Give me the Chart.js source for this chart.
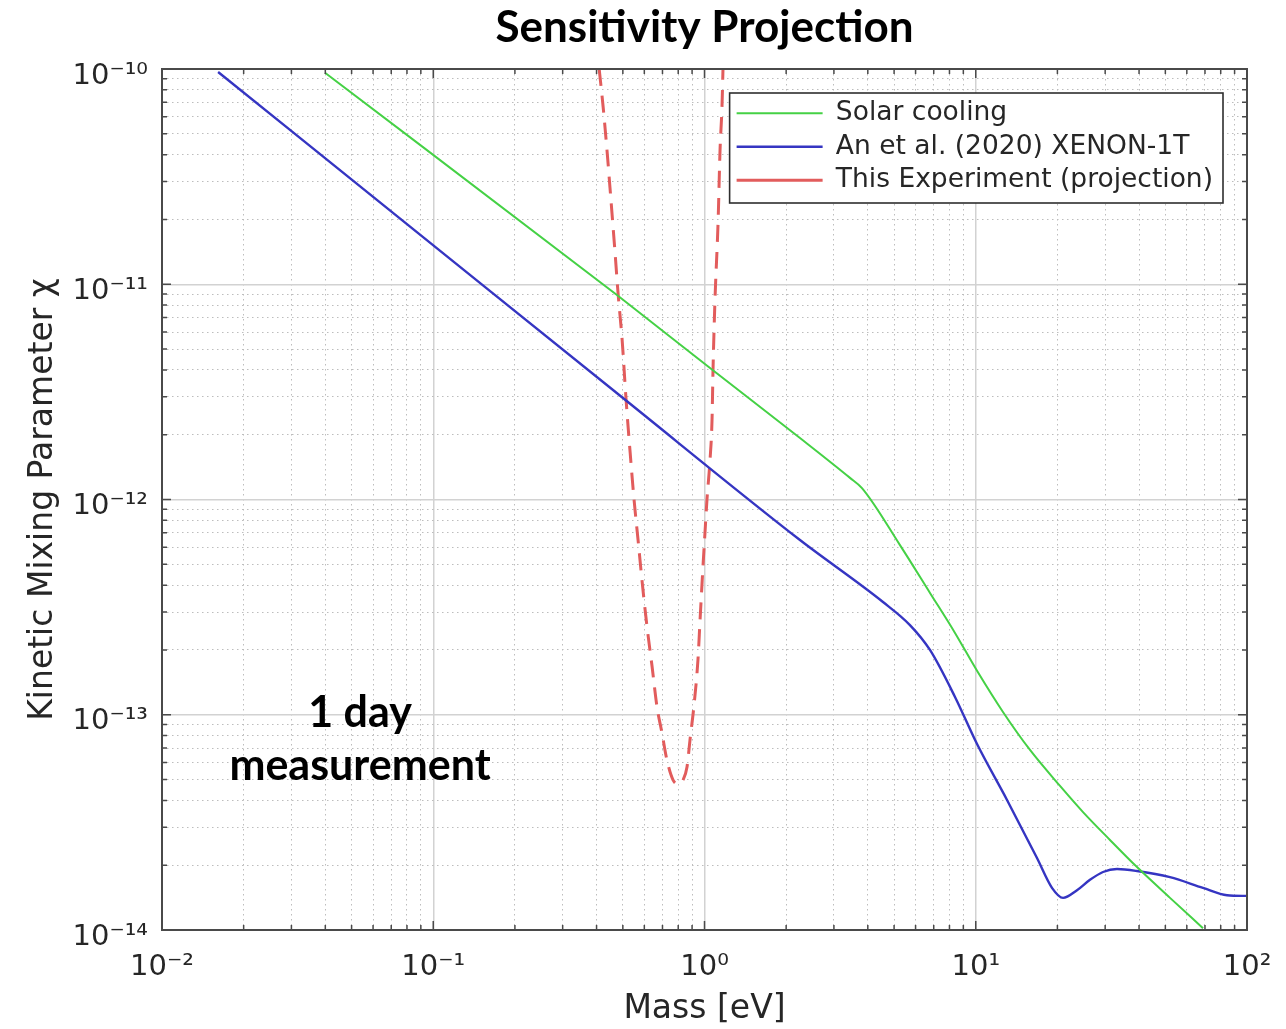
<!DOCTYPE html>
<html>
<head>
<meta charset="utf-8">
<script src="https://cdn.jsdelivr.net/npm/chart.js@4.4.1/dist/chart.umd.min.js"></script>
<style>
  html, body { margin: 0; padding: 0; background: #ffffff; }
  #wrap { width: 1286px; height: 1029px; position: relative; }
</style>
</head>
<body>
<div id="wrap"><canvas id="c"></canvas></div>
<script>
// ---------------- data ----------------
const solarMass = [0.0399, 0.4757, 1.048, 2.249, 3.439, 3.807, 5.256, 6.782, 8.385, 10.11, 12.60, 15.85, 20.45, 24.86, 31.25, 39.31, 52.02, 68.83];
const solarChi  = [9.6e-11, 8.91e-12, 4.08e-12, 1.93e-12, 1.26e-12, 1.13e-12, 6.14e-13, 3.68e-13, 2.40e-13, 1.60e-13, 1.03e-13, 6.86e-14, 4.67e-14, 3.53e-14, 2.62e-14, 1.96e-14, 1.41e-14, 1.02e-14];

const xenonMass = [0.0161, 0.0998, 0.5005, 2.249, 4.55, 5.72, 6.78, 8.385, 10.11, 13.04, 16.82, 19.1, 20.98, 23.62, 26.37, 29.45, 33.17, 39.31, 52.0, 68.8, 84.4, 100];
const xenonChi  = [9.68e-11, 1.52e-11, 2.96e-12, 6.48e-13, 3.34e-13, 2.61e-13, 2.00e-13, 1.21e-13, 7.31e-14, 4.02e-14, 2.16e-14, 1.57e-14, 1.41e-14, 1.53e-14, 1.71e-14, 1.86e-14, 1.92e-14, 1.88e-14, 1.76e-14, 1.57e-14, 1.45e-14, 1.44e-14];

const projMass = [0.409, 0.423, 0.437, 0.452, 0.468, 0.480, 0.497, 0.514, 0.531, 0.550, 0.569, 0.588, 0.614, 0.641, 0.668, 0.697, 0.727, 0.766, 0.799, 0.833, 0.862, 0.884, 0.915, 0.946, 0.963, 0.987, 1.004, 1.021, 1.048, 1.066, 1.075, 1.093, 1.122, 1.141, 1.160, 1.170];
const projChi  = [1.0e-10, 6.66e-11, 4.20e-11, 2.46e-11, 1.40e-11, 9.11e-12, 5.51e-12, 2.90e-12, 1.70e-12, 9.95e-13, 6.48e-13, 4.23e-13, 2.56e-13, 1.67e-13, 1.09e-13, 8.23e-14, 6.16e-14, 4.97e-14, 4.77e-14, 4.97e-14, 5.72e-14, 7.63e-14, 1.11e-13, 1.80e-13, 2.76e-13, 4.86e-13, 6.99e-13, 9.95e-13, 1.53e-12, 2.34e-12, 4.00e-12, 8.45e-12, 1.93e-11, 4.20e-11, 6.66e-11, 1.0e-10];

const seriesLabels = ['Solar cooling', 'An et al. (2020) XENON-1T', 'This Experiment (projection)'];

const xTickExponents = [-2, -1, 0, 1, 2];
const xTickLabels = ['10⁻²', '10⁻¹', '10⁰', '10¹', '10²'];
const yTickExponents = [-14, -13, -12, -11, -10];
const yTickLabels = ['10⁻¹⁴', '10⁻¹³', '10⁻¹²', '10⁻¹¹', '10⁻¹⁰'];
const minorMultipliers = [1, 2, 3, 4, 5, 6, 7, 8, 9];

const noteLines = ['1 day', 'measurement'];

// ---------------- helpers ----------------
const isMajor = v => { const l = Math.log10(v); return Math.abs(l - Math.round(l)) < 1e-6; };
const toPts = (xs, ys) => xs.map((x, i) => ({ x: x, y: ys[i] }));
function logTicks(exps) {
  const out = [];
  for (let i = 0; i < exps.length - 1; i++) {
    for (const m of minorMultipliers) out.push({ value: m * Math.pow(10, exps[i]) });
  }
  out.push({ value: Math.pow(10, exps[exps.length - 1]) });
  return out;
}
function tickText(v, exps, labels) {
  if (!isMajor(v)) return '';
  const i = exps.indexOf(Math.round(Math.log10(v)));
  return i >= 0 ? labels[i] : '';
}
const gridColor = c => (c.tick && isMajor(c.tick.value)) ? '#d2d2d2' : '#bdbdbd';
const gridWidth = c => (c.tick && isMajor(c.tick.value)) ? 1.5 : 1;
const gridDash = c => (c.tick && isMajor(c.tick.value)) ? [] : [1.5, 3.5];

// ---------------- overlay plugin: frame, inner ticks, legend box, note ----------------
const overlay = {
  id: 'overlay',
  beforeDraw(chart, args, opts) {
    const lg = chart.legend;
    if (!lg || !lg.legendItems) return;
    const a = chart.chartArea;
    const lo = chart.options.plugins.legend.labels;
    const fs = lo.font.size;
    const ctx = chart.ctx;
    ctx.save();
    ctx.font = fs + 'px "' + lo.font.family + '"';
    let tw = 0;
    lg.legendItems.forEach(it => { tw = Math.max(tw, ctx.measureText(it.text).width); });
    ctx.restore();
    const w = lo.padding + lo.pointStyleWidth + fs / 2 + tw + opts.legendRightGap;
    lg.right = a.right - opts.legendInset;
    lg.left = lg.right - w;
    lg.width = w;
    lg.top = a.top + opts.legendInset;
    lg.height = opts.legendHeight;
    lg.bottom = lg.top + opts.legendHeight;
  },
  afterDatasetsDraw(chart, args, opts) {
    const ctx = chart.ctx, a = chart.chartArea, xs = chart.scales.x, ys = chart.scales.y;
    ctx.save();
    // note text
    ctx.fillStyle = '#000000';
    ctx.font = 'bold ' + opts.noteSize + 'px Lato';
    ctx.textAlign = 'center';
    ctx.textBaseline = 'alphabetic';
    const nx = xs.getPixelForValue(opts.noteMass);
    const ny = ys.getPixelForValue(opts.noteChi);
    noteLines.forEach((t, i) => ctx.fillText(t, nx, ny + i * opts.noteGap));
    // inner tick marks
    ctx.strokeStyle = '#4a4a4a';
    ctx.lineWidth = 1.5;
    ctx.beginPath();
    xs.ticks.forEach(t => {
      const p = xs.getPixelForValue(t.value), L = isMajor(t.value) ? 9 : 5;
      ctx.moveTo(p, a.bottom); ctx.lineTo(p, a.bottom - L);
      ctx.moveTo(p, a.top); ctx.lineTo(p, a.top + L);
    });
    ys.ticks.forEach(t => {
      const p = ys.getPixelForValue(t.value), L = isMajor(t.value) ? 9 : 5;
      ctx.moveTo(a.left, p); ctx.lineTo(a.left + L, p);
      ctx.moveTo(a.right, p); ctx.lineTo(a.right - L, p);
    });
    ctx.stroke();
    // axes box
    ctx.lineWidth = 2;
    ctx.strokeRect(a.left, a.top, a.right - a.left, a.bottom - a.top);
    // legend box
    const lg = chart.legend;
    ctx.fillStyle = '#ffffff';
    ctx.fillRect(lg.left, lg.top, lg.width, lg.height);
    ctx.strokeStyle = '#2e2e2e';
    ctx.lineWidth = 1.6;
    ctx.strokeRect(lg.left, lg.top, lg.width, lg.height);
    ctx.restore();
    lg.draw();
  }
};

new Chart(document.getElementById('c'), {
  type: 'line',
  data: {
    datasets: [
      { label: seriesLabels[0], data: toPts(solarMass, solarChi), borderColor: '#45d145', borderWidth: 2,
        pointRadius: 0, fill: false, cubicInterpolationMode: 'monotone' },
      { label: seriesLabels[1], data: toPts(xenonMass, xenonChi), borderColor: '#3535c2', borderWidth: 2.4,
        pointRadius: 0, fill: false, cubicInterpolationMode: 'monotone' },
      { label: seriesLabels[2], data: toPts(projMass, projChi), borderColor: '#e25c5c', borderWidth: 3,
        borderDash: [17, 10], pointRadius: 0, fill: false, cubicInterpolationMode: 'monotone' }
    ]
  },
  options: {
    responsive: true,
    maintainAspectRatio: false,
    devicePixelRatio: 1,
    animation: false,
    events: [],
    layout: { padding: { left: 10, right: 39, top: 0, bottom: 0 } },
    scales: {
      x: {
        type: 'logarithmic',
        position: 'bottom',
        min: 0.01, max: 100,
        afterBuildTicks: s => { s.ticks = logTicks(xTickExponents); },
        afterFit: s => { s.height = 99; },
        ticks: {
          autoSkip: false, maxRotation: 0, minRotation: 0, padding: 4,
          color: '#262626', font: { family: 'DejaVu Sans', size: 29, lineHeight: 2.3 },
          callback: v => tickText(v, xTickExponents, xTickLabels)
        },
        grid: { color: gridColor, lineWidth: gridWidth, drawTicks: false },
        border: { display: false, dash: gridDash },
        title: { display: true, text: 'Mass [eV]', color: '#262626',
          font: { family: 'DejaVu Sans', size: 33 }, padding: { top: 0, bottom: 0 } }
      },
      y: {
        type: 'logarithmic',
        position: 'left',
        min: 1e-14, max: 1e-10,
        afterBuildTicks: s => { s.ticks = logTicks(yTickExponents); },
        afterFit: s => { s.width = 152; },
        ticks: {
          autoSkip: false, padding: 14, labelOffset: 7,
          color: '#262626', font: { family: 'DejaVu Sans', size: 29 },
          callback: v => tickText(v, yTickExponents, yTickLabels)
        },
        grid: { color: gridColor, lineWidth: gridWidth, drawTicks: false },
        border: { display: false, dash: gridDash },
        title: { display: true, text: 'Kinetic Mixing Parameter χ', color: '#262626',
          font: { family: 'DejaVu Sans', size: 33 }, padding: { top: 14, bottom: 0 } }
      }
    },
    plugins: {
      title: {
        display: true, text: 'Sensitivity Projection', fullSize: false, color: '#000000',
        font: { family: 'Lato', size: 44, weight: 'bold', lineHeight: 1.2 },
        padding: { top: 1, bottom: 15.2 }
      },
      legend: {
        display: true, position: 'chartArea', align: 'start',
        labels: {
          usePointStyle: true, pointStyle: 'line', pointStyleWidth: 86, padding: 7,
          color: '#262626', font: { family: 'DejaVu Sans', size: 26.5 }
        }
      },
      tooltip: { enabled: false },
      overlay: {
        legendInset: 24, legendHeight: 110, legendRightGap: 10,
        noteMass: 0.0537, noteChi: 8.77e-14, noteGap: 53, noteSize: 43
      }
    }
  },
  plugins: [overlay]
});
</script>
</body>
</html>
